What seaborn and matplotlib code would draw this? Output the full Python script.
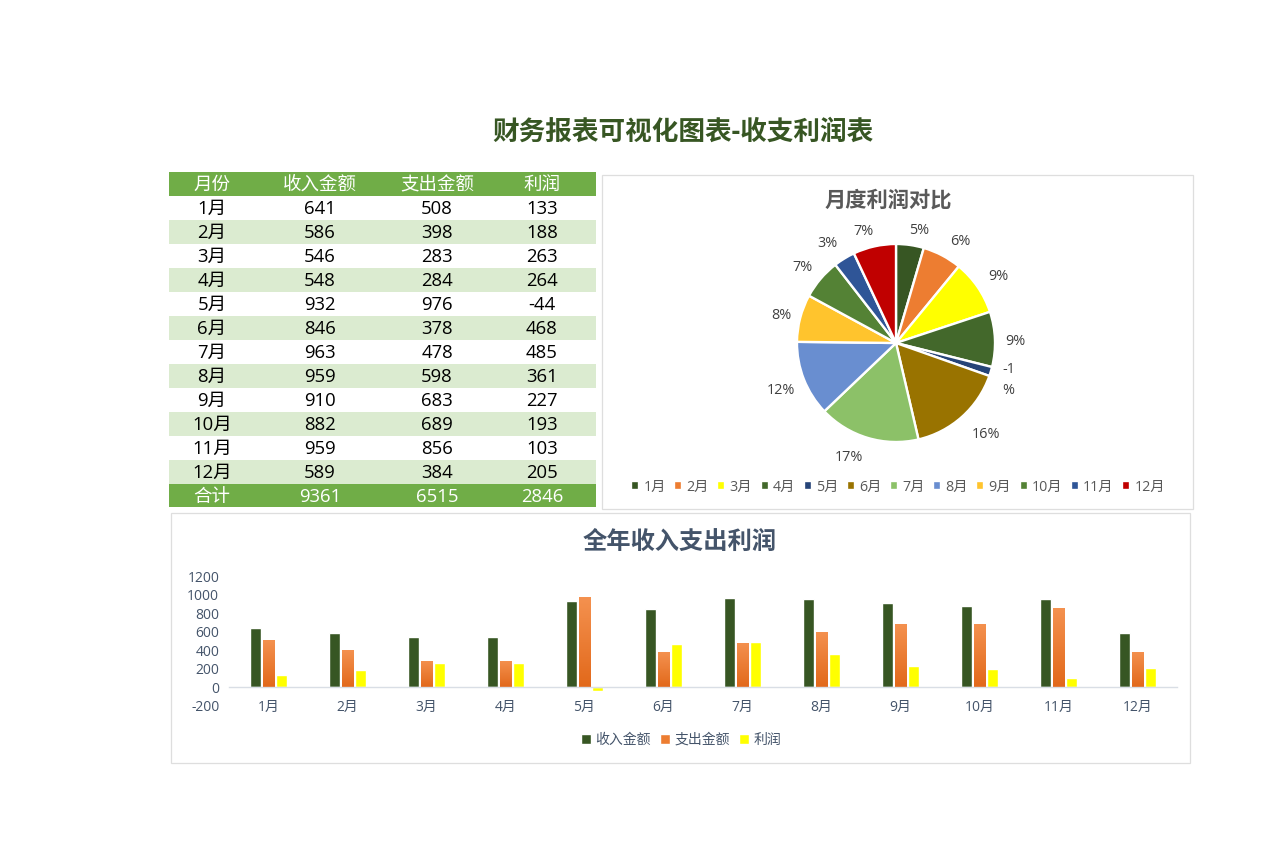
import numpy as np
import pandas as pd
import matplotlib
matplotlib.use("Agg")
import matplotlib.pyplot as plt
from matplotlib.colors import LinearSegmentedColormap
from matplotlib.patches import Rectangle
import seaborn as sns

months = ["1月", "2月", "3月", "4月", "5月", "6月", "7月", "8月", "9月", "10月", "11月", "12月"]
income = [641, 586, 546, 548, 932, 846, 963, 959, 910, 882, 959, 589]
expense = [508, 398, 283, 284, 976, 378, 478, 598, 683, 689, 856, 384]
profit = [133, 188, 263, 264, -44, 468, 485, 361, 227, 193, 103, 205]
totals = [9361, 6515, 2846]
headers = ["月份", "收入金额", "支出金额", "利润"]
pie_labels = ["5%", "6%", "9%", "9%", "-1\n%", "16%", "17%", "12%", "8%", "7%", "3%", "7%"]
pie_colors = ["#375623", "#ED7D31", "#FFFF00", "#43682B", "#264478", "#997300",
              "#8CC168", "#698ED0", "#FFC42D", "#548235", "#2F5597", "#C00000"]
bar_colors = ["#375623", "#ED7D31", "#FFFF00"]

sns.set_theme(style="white")
plt.rcParams["font.family"] = ["Open Sans", "Noto Sans CJK SC", "DejaVu Sans"]
plt.rcParams["axes.unicode_minus"] = False

W, H = 1280, 860
fig = plt.figure(figsize=(W / 100, H / 100), dpi=100, facecolor="white")


def box(left, top, right, bottom):
    return [left / W, 1 - bottom / H, (right - left) / W, (bottom - top) / H]


# background layer in pixel coords: title, table, frames
bg = fig.add_axes([0, 0, 1, 1], zorder=0)
bg.set_xlim(0, W)
bg.set_ylim(H, 0)
bg.axis("off")

bg.text(683, 133, "财务报表可视化图表-收支利润表", fontsize=19.2, fontweight="bold",
        color="#375623", ha="center", va="center")

bg.add_patch(Rectangle((602, 175), 591, 334, fc="white", ec="#DEDEDE", lw=0.9))
bg.add_patch(Rectangle((171, 513), 1019, 250, fc="white", ec="#DEDEDE", lw=0.9))

col_x = [212, 320, 437, 542]
row_h = 24
top = 172
bg.add_patch(Rectangle((169, top), 427, row_h, fc="#70AD47", ec="none"))
for x, h in zip(col_x, headers):
    bg.text(x, top + row_h / 2 + 1, h, fontsize=13.3, color="white", ha="center", va="center")

for i, m in enumerate(months):
    y = top + row_h * (i + 1)
    if i % 2 == 1:
        bg.add_patch(Rectangle((169, y), 427, row_h, fc="#DBEBD0", ec="none"))
    row = [m, income[i], expense[i], profit[i]]
    for x, v in zip(col_x, row):
        bg.text(x, y + row_h / 2 + 1, str(v), fontsize=13.3, color="black", ha="center", va="center")

y = top + row_h * 13
bg.add_patch(Rectangle((169, y), 427, row_h - 1, fc="#70AD47", ec="none"))
for x, v in zip(col_x, ["合计"] + totals):
    bg.text(x, y + row_h / 2 + 1, str(v), fontsize=13.3, color="white", ha="center", va="center")

bg.text(888, 201, "月度利润对比", fontsize=15.3, fontweight="bold", color="#595959",
        ha="center", va="center")
bg.text(680, 543, "全年收入支出利润", fontsize=17.5, fontweight="bold", color="#44546A",
        ha="center", va="center")

# pie, negative month drawn by its size
ax_pie = fig.add_axes(box(796, 243, 996, 443), zorder=1)
wedges, texts = ax_pie.pie(np.abs(profit), labels=pie_labels, colors=pie_colors, startangle=90,
                           counterclock=False, radius=1.0, labeldistance=1.22,
                           wedgeprops={"edgecolor": "white", "linewidth": 1.7},
                           textprops={"fontsize": 10.4, "color": "#404040"})
# label nudges in px, excel places them a bit unevenly
nudge = [(6, 7), (8, 5), (3, 2), (-1, 3), (-3, 2), (9, 2), (-13, -1), (-3, 3), (2, 3), (-1, 3), (-5, 4), (-6, 6)]
for t, (dx, dy) in zip(texts, nudge):
    t.set_ha("center")
    t.set_va("center")
    t.set_linespacing(1.5)
    px, py = t.get_position()
    t.set_position((px + dx / 99, py - dy / 99))
ax_pie.set_xlim(-1.01, 1.01)
ax_pie.set_ylim(-1.01, 1.01)

fig.legend(wedges, months, loc="center", bbox_to_anchor=(898 / W, 1 - 487 / H), ncol=12, frameon=False,
           fontsize=10.3, labelcolor="#595959", handlelength=0.55, handleheight=0.55,
           handletextpad=0.3, columnspacing=0.6, borderpad=0)

# grouped bars
df = pd.DataFrame({"月份": months, "收入金额": income, "支出金额": expense, "利润": profit})
long_df = df.melt(id_vars="月份", var_name="项目", value_name="金额")

ax_bar = fig.add_axes(box(229, 576.5, 1177, 705.5), zorder=1)
ax_bar.patch.set_alpha(0)
sns.barplot(data=long_df, x="月份", y="金额", hue="项目", palette=bar_colors,
            width=0.5, gap=0.12, ax=ax_bar, legend=True, saturation=1, errorbar=None)
ax_bar.set_xlim(-0.5, 11.5)
ax_bar.set_ylim(-200, 1200)
ax_bar.set_yticks(range(-200, 1201, 200))
ax_bar.set_xlabel("")
ax_bar.set_ylabel("")
for s in ["top", "left", "right"]:
    ax_bar.spines[s].set_visible(False)
ax_bar.spines["bottom"].set_position(("data", 0))
ax_bar.spines["bottom"].set_color("#D9DEE5")
ax_bar.spines["bottom"].set_linewidth(1)
ax_bar.tick_params(axis="x", length=0, pad=9, labelsize=10, labelcolor="#44546A")
ax_bar.tick_params(axis="y", length=0, pad=7, labelsize=10, labelcolor="#44546A")

# orange series has a vertical gradient
grad = LinearSegmentedColormap.from_list("orange_grad", ["#F4914F", "#E2691B"])
for p in ax_bar.containers[1]:
    x0, y0, w, h = p.get_x(), p.get_y(), p.get_width(), p.get_height()
    im = ax_bar.imshow(np.linspace(0, 1, 64).reshape(-1, 1), cmap=grad, aspect="auto",
                       extent=(x0, x0 + w, y0, y0 + h), origin="upper", zorder=p.get_zorder() + 0.1)
    im.set_clip_path(p)
ax_bar.set_xlim(-0.5, 11.5)
ax_bar.set_ylim(-200, 1200)

handles, labels = ax_bar.get_legend_handles_labels()
ax_bar.get_legend().remove()
fig.legend(handles, labels, loc="center", bbox_to_anchor=(681 / W, 1 - 740 / H), ncol=3, frameon=False,
           fontsize=10, labelcolor="#44546A", handlelength=0.7, handleheight=0.7,
           handletextpad=0.3, columnspacing=0.7, borderpad=0)

fig.savefig("out.png", dpi=100)
